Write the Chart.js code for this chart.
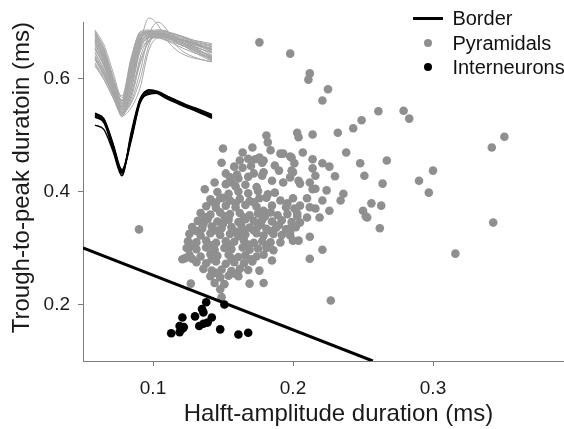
<!DOCTYPE html>
<html>
<head>
<meta charset="utf-8">
<script src="https://cdn.jsdelivr.net/npm/chart.js@4"></script>
<style>
  html, body { margin: 0; padding: 0; background: #fff; overflow: hidden; }
  #wrap { position: relative; width: 600px; height: 429px; }
  canvas { display: block; }
  #legend {
    position: absolute; left: 413px; top: 6.3px;
    font: 20px "Liberation Sans", Arial, Helvetica, sans-serif; color: #111;
    white-space: nowrap;
  }
  #legend .row { height: 24.5px; line-height: 24.5px; display: flex; align-items: center; }
  #legend .mark { width: 30px; height: 24.5px; display: flex; align-items: center; justify-content: center; margin-top: -1px; }
  #legend .txt { margin-left: 9.4px; }
</style>
</head>
<body>
<div id="wrap">
  <canvas id="c" width="600" height="429"></canvas>
  <div id="legend"></div>
</div>
<script>
// Axis ticks
const xTicks = [0.1, 0.2, 0.3];
const yTicks = [0.2, 0.4, 0.6];

// Classification border (half-amplitude duration, trough-to-peak duration)
const borderLine = [[0.05, 0.30], [0.257, 0.10]];

// Pyramidal cells: [half-amplitude duration, trough-to-peak duration] in ms
const pyramidals = [
  [0.176,0.664],[0.198,0.644],[0.212,0.609],[0.211,0.598],[0.225,0.581],[0.221,0.561],
  [0.261,0.542],[0.279,0.543],[0.283,0.529],[0.249,0.526],[0.243,0.512],[0.232,0.504],
  [0.214,0.501],[0.203,0.504],[0.204,0.496],[0.181,0.499],[0.182,0.487],
  [0.351,0.497],[0.342,0.478],
  [0.238,0.469],[0.267,0.455],[0.248,0.450],[0.251,0.428],[0.264,0.414],
  [0.300,0.437],[0.290,0.419],[0.297,0.398],
  [0.230,0.427],[0.226,0.444],[0.221,0.450],[0.214,0.457],[0.207,0.469],[0.199,0.460],
  [0.201,0.450],[0.214,0.441],[0.216,0.428],[0.200,0.434],[0.193,0.467],
  [0.212,0.416],[0.224,0.402],[0.236,0.396],[0.214,0.404],[0.205,0.414],
  [0.256,0.379],[0.263,0.375],[0.250,0.366],[0.252,0.356],[0.262,0.335],
  [0.343,0.345],[0.316,0.290],
  [0.212,0.320],[0.221,0.297],[0.212,0.281],[0.179,0.238],[0.227,0.207],
  [0.090,0.333],[0.127,0.237],[0.148,0.227],[0.149,0.213],[0.169,0.237],[0.161,0.250],
  [0.234,0.384],[0.221,0.384],[0.210,0.388],[0.200,0.388],[0.196,0.379],[0.205,0.375],
  [0.212,0.372],[0.216,0.370],
  [0.187,0.398],[0.181,0.389],[0.191,0.384],[0.185,0.375],[0.179,0.366],[0.189,0.358],
  [0.203,0.361],[0.210,0.354],[0.219,0.354],[0.226,0.366],[0.253,0.354],
  [0.184,0.473],[0.191,0.467],[0.198,0.462],[0.187,0.446],[0.190,0.437],[0.179,0.455],
  [0.199,0.437],[0.198,0.425],[0.204,0.419],[0.193,0.416],[0.185,0.419],[0.216,0.405],
  [0.150,0.476],[0.149,0.451],[0.152,0.432],[0.155,0.425],[0.156,0.416],[0.144,0.416],
  [0.137,0.404],[0.143,0.381],[0.150,0.389],[0.162,0.455],[0.164,0.469],[0.171,0.478],
  [0.164,0.442],[0.168,0.458],[0.173,0.457],[0.176,0.460],[0.178,0.451],[0.179,0.434],
  [0.178,0.428],
  [0.121,0.280],[0.123,0.282],[0.126,0.301],[0.135,0.335],[0.137,0.349],
  [0.198,0.322],[0.205,0.345],[0.200,0.313],[0.198,0.335],[0.191,0.310],[0.185,0.278],
  [0.203,0.356],[0.176,0.260],[0.204,0.313],
  [0.152,0.413],[0.159,0.409],[0.166,0.412],[0.174,0.408],
  [0.161,0.423],[0.168,0.426],[0.160,0.430],[0.172,0.432],[0.158,0.444],[0.170,0.445],
  [0.146,0.399],[0.154,0.396],[0.161,0.400],[0.168,0.397],[0.175,0.401],[0.182,0.395],
  [0.141,0.386],[0.148,0.388],[0.155,0.384],[0.162,0.387],[0.169,0.383],[0.176,0.388],
  [0.145,0.380],[0.159,0.379],[0.172,0.381],
  [0.138,0.374],[0.145,0.371],[0.152,0.375],[0.159,0.372],[0.166,0.376],[0.174,0.373],
  [0.195,0.372],[0.201,0.370],
  [0.134,0.362],[0.141,0.359],[0.148,0.363],[0.155,0.360],[0.162,0.362],[0.169,0.358],
  [0.175,0.361],[0.184,0.363],[0.196,0.360],
  [0.137,0.355],[0.151,0.356],[0.165,0.354],[0.180,0.356],
  [0.132,0.348],[0.139,0.351],[0.146,0.347],[0.154,0.350],[0.161,0.346],[0.166,0.351],
  [0.172,0.348],[0.178,0.350],[0.185,0.347],[0.192,0.349],[0.199,0.346],
  [0.136,0.342],[0.150,0.343],[0.163,0.341],[0.177,0.342],[0.190,0.341],
  [0.128,0.337],[0.135,0.334],[0.142,0.338],[0.149,0.335],[0.156,0.337],[0.164,0.333],
  [0.169,0.336],[0.175,0.338],[0.181,0.334],[0.188,0.336],[0.195,0.333],[0.202,0.337],
  [0.131,0.330],[0.145,0.331],[0.159,0.329],[0.172,0.331],[0.184,0.330],[0.198,0.329],
  [0.126,0.325],[0.134,0.322],[0.141,0.326],[0.148,0.323],[0.155,0.325],[0.161,0.321],
  [0.166,0.324],[0.174,0.326],[0.179,0.322],[0.186,0.325],[0.192,0.323],
  [0.125,0.312],[0.131,0.310],[0.138,0.313],[0.145,0.309],[0.152,0.312],[0.158,0.311],
  [0.165,0.313],[0.172,0.309],[0.178,0.312],[0.184,0.310],
  [0.128,0.306],[0.141,0.305],[0.155,0.304],[0.168,0.306],[0.181,0.305],
  [0.124,0.300],[0.131,0.298],[0.138,0.301],[0.144,0.297],[0.151,0.300],[0.156,0.298],
  [0.164,0.301],[0.169,0.297],[0.175,0.299],[0.181,0.300],[0.186,0.296],
  [0.126,0.288],[0.134,0.285],[0.141,0.289],[0.146,0.286],[0.154,0.288],[0.161,0.284],
  [0.166,0.287],[0.174,0.285],[0.179,0.288],
  [0.128,0.281],[0.142,0.280],[0.156,0.282],[0.170,0.280],
  [0.131,0.275],[0.138,0.273],[0.145,0.276],[0.152,0.272],[0.158,0.275],[0.165,0.273],
  [0.171,0.276],
  [0.136,0.263],[0.142,0.260],[0.149,0.262],[0.156,0.259],[0.162,0.263],[0.168,0.261],
  [0.145,0.256],[0.158,0.255],
  [0.141,0.250],[0.148,0.248],[0.154,0.251],
  [0.144,0.238],[0.151,0.236]
];

// Interneurons: [half-amplitude duration, trough-to-peak duration] in ms
const interneurons = [
  [0.113,0.149],[0.119,0.151],[0.121,0.157],[0.119,0.162],[0.122,0.160],[0.121,0.177],
  [0.130,0.179],[0.133,0.162],[0.136,0.166],[0.142,0.177],[0.136,0.186],[0.135,0.192],
  [0.138,0.204],[0.148,0.156],[0.161,0.147],[0.168,0.150],[0.151,0.200],[0.139,0.168]
];

// Mean spike waveforms (normalised amplitude, trough = -1) per sample
const waveSamples = [0,1,2,3,4,5,6,7,8,9,10,11,12,13];
const pyramidalWaves = [
  [0.08,-0.25,-0.67,-1.05,-0.50,0.08,0.20,0.18,0.15,0.12,0.07,0.02,-0.03,-0.08],
  [0.22,-0.08,-0.55,-0.95,-0.28,0.17,0.22,0.17,0.12,0.07,0.02,-0.03,-0.08,-0.13],
  [-0.17,-0.45,-0.78,-1.12,-0.72,-0.08,0.12,0.15,0.13,0.10,0.05,0.00,-0.05,-0.12],
  [-0.05,-0.35,-0.72,-1.08,-0.58,0.00,0.17,0.17,0.13,0.08,0.02,-0.05,-0.12,-0.18],
  [0.25,0.00,-0.45,-0.88,-0.25,0.22,0.25,0.20,0.15,0.10,0.05,0.00,-0.03,-0.07],
  [-0.25,-0.50,-0.80,-1.12,-0.78,0.00,0.45,0.33,0.08,-0.08,-0.17,-0.22,-0.25,-0.28],
  [-0.12,-0.42,-0.75,-1.08,-0.95,-0.45,0.17,0.38,0.25,0.00,-0.13,-0.20,-0.25,-0.28],
  [-0.22,-0.48,-0.82,-1.18,-1.05,-0.72,-0.08,0.12,0.13,0.08,0.02,-0.05,-0.12,-0.20],
  [0.15,-0.17,-0.62,-0.98,-0.42,0.12,0.18,0.18,0.17,0.13,0.08,0.05,0.02,-0.02],
  [0.05,-0.22,-0.65,-0.92,-0.38,0.05,0.15,0.12,0.07,0.00,-0.07,-0.13,-0.18,-0.23],
  [-0.35,-0.58,-0.88,-1.15,-0.75,-0.12,0.08,0.13,0.12,0.07,0.00,-0.08,-0.17,-0.25],
  [0.18,-0.12,-0.58,-0.85,-0.22,0.18,0.20,0.17,0.13,0.10,0.07,0.03,0.00,-0.03],
  [-0.08,-0.32,-0.68,-1.03,-0.55,0.02,0.15,0.18,0.20,0.17,0.12,0.05,-0.02,-0.10],
  [0.02,-0.30,-0.75,-1.20,-0.67,-0.05,0.12,0.12,0.08,0.03,-0.03,-0.10,-0.17,-0.22],
  [0.12,-0.18,-0.63,-1.02,-0.45,0.10,0.23,0.25,0.22,0.17,0.12,0.07,0.03,0.00],
  [-0.30,-0.53,-0.83,-1.13,-0.83,-0.28,0.05,0.15,0.12,0.05,-0.03,-0.12,-0.20,-0.27],
  [0.17,-0.15,-0.58,-0.97,-0.35,0.15,0.23,0.22,0.18,0.13,0.08,0.03,-0.02,-0.07],
  [-0.02,-0.32,-0.70,-1.07,-0.55,0.03,0.18,0.20,0.18,0.15,0.10,0.03,-0.03,-0.12],
  [-0.13,-0.40,-0.75,-1.10,-0.68,-0.05,0.13,0.15,0.12,0.07,0.00,-0.07,-0.13,-0.20],
  [0.23,-0.05,-0.52,-0.92,-0.27,0.20,0.23,0.20,0.17,0.12,0.07,0.02,-0.02,-0.05],
  [-0.20,-0.47,-0.80,-1.15,-0.85,-0.22,0.12,0.18,0.17,0.12,0.05,-0.02,-0.08,-0.17],
  [0.07,-0.23,-0.68,-1.08,-0.48,0.08,0.17,0.15,0.12,0.07,0.02,-0.03,-0.08,-0.13],
  [-0.32,-0.57,-0.87,-1.17,-0.90,-0.32,0.07,0.17,0.17,0.12,0.05,-0.03,-0.12,-0.22],
  [0.10,-0.20,-0.63,-1.00,-0.42,0.12,0.22,0.23,0.22,0.18,0.13,0.08,0.05,0.02],
  [-0.07,-0.35,-0.73,-1.05,-0.63,-0.02,0.13,0.13,0.10,0.05,-0.02,-0.08,-0.15,-0.22],
  [0.20,-0.10,-0.57,-0.93,-0.32,0.15,0.20,0.18,0.15,0.12,0.07,0.02,-0.03,-0.08],
  [-0.23,-0.50,-0.83,-1.13,-0.98,-0.58,0.00,0.25,0.23,0.13,0.02,-0.08,-0.17,-0.25],
  [0.02,-0.27,-0.70,-1.02,-0.47,0.08,0.20,0.22,0.20,0.17,0.12,0.05,-0.02,-0.08]
];
const interneuronWaves = [
  [0.00,-0.10,-0.56,-1.02,-0.37,0.26,0.42,0.40,0.32,0.25,0.18,0.12,0.05,-0.02],
  [0.04,-0.06,-0.50,-0.98,-0.45,0.22,0.40,0.41,0.34,0.27,0.20,0.14,0.08,0.01],
  [-0.16,-0.24,-0.62,-1.05,-0.30,0.30,0.45,0.42,0.33,0.25,0.17,0.10,0.03,-0.04],
  [0.02,-0.08,-0.52,-0.96,-0.42,0.24,0.38,0.40,0.35,0.28,0.21,0.15,0.09,0.03],
  [-0.02,-0.12,-0.58,-1.00,-0.34,0.28,0.44,0.39,0.30,0.23,0.16,0.11,0.04,-0.03],
  [0.05,-0.05,-0.48,-0.94,-0.40,0.27,0.46,0.43,0.35,0.27,0.19,0.13,0.06,0.00]
];

const FONT = '"Liberation Sans", Arial, Helvetica, sans-serif';
const AXIS_GREY = '#7c7c7c';
const TEXT = '#1a1a1a';
const PYR_GREY = '#8f8f8f';
const WAVE_GREY = '#a6a6a6';

const toXY = arr => arr.map(p => ({ x: p[0], y: p[1] }));
const waveXY = w => w.map((v, i) => ({ x: waveSamples[i], y: v }));

const datasets = [
  { type: 'line', label: 'Border', data: toXY(borderLine), borderColor: '#000',
    borderWidth: 3, pointRadius: 0, xAxisID: 'x', yAxisID: 'y', order: 0 },
  { type: 'scatter', label: 'Pyramidals', data: toXY(pyramidals), backgroundColor: PYR_GREY,
    borderWidth: 0, pointRadius: 4.3, xAxisID: 'x', yAxisID: 'y', order: 2, legendColor: PYR_GREY },
  { type: 'scatter', label: 'Interneurons', data: toXY(interneurons), backgroundColor: '#000',
    borderWidth: 0, pointRadius: 4.3, xAxisID: 'x', yAxisID: 'y', order: 1, legendColor: '#000' }
];

pyramidalWaves.forEach(w => datasets.push({
  type: 'line', data: waveXY(w), borderColor: WAVE_GREY, borderWidth: 1, clip: false,
  pointRadius: 0, cubicInterpolationMode: 'monotone', xAxisID: 'wx', yAxisID: 'wyP', order: 5
}));
interneuronWaves.forEach(w => datasets.push({
  type: 'line', data: waveXY(w), borderColor: '#000', borderWidth: 1.4, clip: false,
  pointRadius: 0, cubicInterpolationMode: 'monotone', xAxisID: 'wx', yAxisID: 'wyI', order: 4
}));

const axisCommon = {
  type: 'linear',
  grid: { display: true, drawOnChartArea: false, drawTicks: true, tickLength: 5, color: AXIS_GREY, lineWidth: 1 },
  border: { display: true, color: AXIS_GREY, width: 1 },
};

new Chart(document.getElementById('c'), {
  type: 'scatter',
  data: { datasets },
  options: {
    responsive: false,
    animation: false,
    events: [],
    layout: { padding: { top: 22, right: 6, bottom: 0, left: 0 } },
    plugins: { legend: { display: false }, tooltip: { enabled: false } },
    scales: {
      x: Object.assign({}, axisCommon, {
        position: 'bottom', min: 0.05, max: 0.415,
        afterBuildTicks: s => { s.ticks = xTicks.map(v => ({ value: v })); },
        afterFit: s => { s.height = 68; },
        ticks: { font: { family: FONT, size: 19 }, color: TEXT, padding: 11, maxRotation: 0, autoSkip: false,
                 callback: v => v.toFixed(1) },
        title: { display: true, text: 'Halft-amplitude duration (ms)', color: TEXT,
                 font: { family: FONT, size: 24 }, padding: { top: 0, bottom: 0 } }
      }),
      y: Object.assign({}, axisCommon, {
        position: 'left', min: 0.1, max: 0.7,
        afterBuildTicks: s => { s.ticks = yTicks.map(v => ({ value: v })); },
        afterFit: s => { s.width = 83; },
        ticks: { font: { family: FONT, size: 19 }, color: TEXT, padding: 8, autoSkip: false,
                 callback: v => v.toFixed(1) },
        title: { display: true, text: 'Trough-to-peak duratoin (ms)', color: TEXT, align: 'end',
                 font: { family: FONT, size: 24 }, padding: { top: 7.6, bottom: 0 } }
      }),
      // waveform inset scales (hidden)
      wx:  { type: 'linear', position: 'bottom', display: false, min: -1.333, max: 55.444 },
      wyP: { type: 'linear', position: 'left', display: false, min: -5.267, max: 0.383 },
      wyI: { type: 'linear', position: 'left', display: false, min: -4.298, max: 1.649 }
    }
  }
});

// legend
const legend = document.getElementById('legend');
datasets.slice(0, 3).forEach(ds => {
  const row = document.createElement('div');
  row.className = 'row';
  const mark = document.createElement('span');
  mark.className = 'mark';
  const sym = document.createElement('span');
  if (ds.type === 'line') {
    sym.style.cssText = 'display:block;width:30px;height:3px;background:' + ds.borderColor;
  } else {
    sym.style.cssText = 'display:block;width:8px;height:8px;border-radius:50%;background:' + ds.legendColor;
  }
  mark.appendChild(sym);
  const txt = document.createElement('span');
  txt.className = 'txt';
  txt.textContent = ds.label;
  row.appendChild(mark); row.appendChild(txt);
  legend.appendChild(row);
});
</script>
</body>
</html>
